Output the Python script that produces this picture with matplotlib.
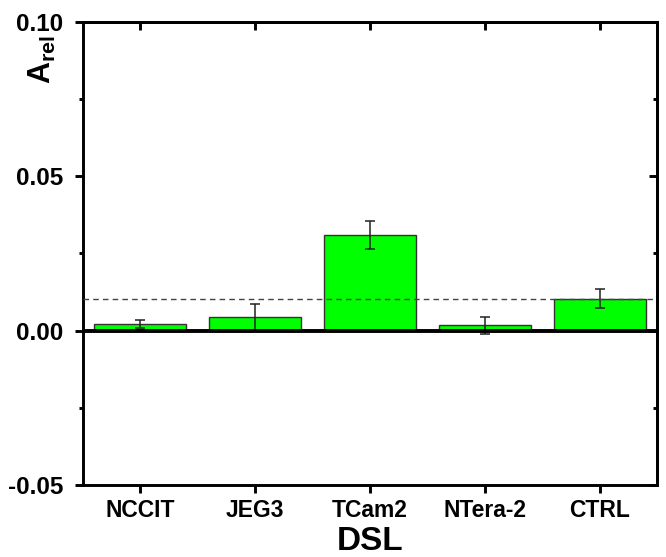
import matplotlib.pyplot as plt
from matplotlib.ticker import MultipleLocator

plt.rcParams['font.family'] = ['Liberation Sans', 'DejaVu Sans']
plt.rcParams['font.weight'] = 'bold'
plt.rcParams['mathtext.fontset'] = 'custom'
plt.rcParams['mathtext.rm'] = 'Liberation Sans:bold'
plt.rcParams['mathtext.bf'] = 'Liberation Sans:bold'

# DSL absorbance per cell line
cells = ['NCCIT', 'JEG3', 'TCam2', 'NTera-2', 'CTRL']
a_rel = [0.0022, 0.0043, 0.0310, 0.0017, 0.0104]
a_err = [0.0013, 0.0043, 0.0044, 0.0027, 0.0032]
yticks = [-0.05, 0.0, 0.05, 0.10]
ylabels = ['-0.05', '0.00', '0.05', '0.10']

fig = plt.figure(figsize=(6.66, 5.57), dpi=100)
ax = fig.add_axes([0.1246, 0.1293, 0.862, 0.8312])

pos = list(range(1, len(cells) + 1))
ax.bar(pos, a_rel, width=0.8, color='#00ff00', edgecolor='#333333',
       linewidth=1.0, zorder=2)
ax.errorbar(pos, a_rel, yerr=a_err, fmt='none', ecolor='#222222',
            elinewidth=1.1, capsize=3.6, capthick=1.1, zorder=3)

# control level and zero baseline
ax.axhline(a_rel[-1], color='#444444', linestyle=(0, (4, 3)), linewidth=1.0, zorder=4)
ax.axhline(0, color='black', linewidth=2.8, zorder=5)

ax.set_xlim(0.5, 5.5)
ax.set_ylim(-0.05, 0.10)
ax.set_xticks(pos)
ax.set_xticklabels(cells, fontsize=16.5, fontweight='bold')
ax.set_yticks(yticks)
ax.set_yticklabels(ylabels, fontsize=17.5, fontweight='bold')
ax.yaxis.set_minor_locator(MultipleLocator(0.025))

for s in ax.spines.values():
    s.set_linewidth(2.1)

ax.tick_params(axis='both', which='major', direction='out', length=6, width=2.1)
ax.tick_params(axis='y', which='major', pad=8)
ax.tick_params(axis='x', which='major', pad=4)
ax.tick_params(axis='y', which='minor', direction='out', length=3, width=2.1)
ax.tick_params(axis='x', which='minor', bottom=False)

# inward ticks on the top and right edges
top = ax.secondary_xaxis('top')
top.set_xticks(pos)
top.tick_params(direction='in', length=5.5, width=2.1, labeltop=False)
top.spines['top'].set_linewidth(2.1)
right = ax.secondary_yaxis('right')
right.set_yticks(yticks)
right.yaxis.set_minor_locator(MultipleLocator(0.025))
right.tick_params(which='major', direction='in', length=5.5, width=2.1, labelright=False)
right.tick_params(which='minor', direction='in', length=3, width=2.1)
right.spines['right'].set_linewidth(2.1)

ax.set_xlabel('DSL', fontsize=24, fontweight='bold', labelpad=3)
ax.set_ylabel(r'$\mathbf{A}_{\mathbf{rel}}$', fontsize=22, labelpad=0)
ax.yaxis.set_label_coords(-0.044, 0.918)

fig.savefig('out.png', dpi=100)
